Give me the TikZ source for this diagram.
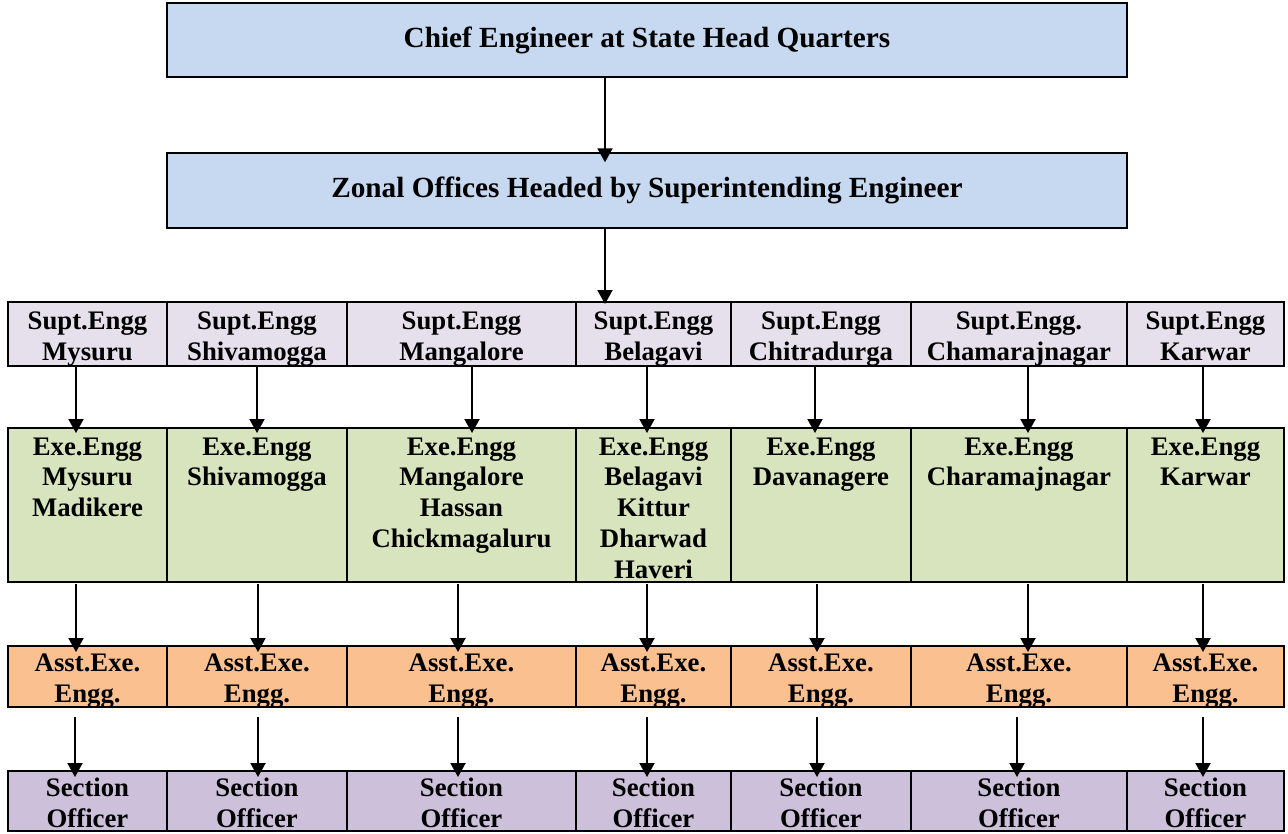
\documentclass[tikz,border=0pt]{standalone}
\usepackage{fontspec}
\setmainfont{Liberation Serif}
\usepackage{tikz}
\usetikzlibrary{arrows.meta, positioning}

\definecolor{headblue}{RGB}{198,217,240}
\definecolor{suptlilac}{RGB}{229,224,236}
\definecolor{exegreen}{RGB}{215,228,189}
\definecolor{asstorange}{RGB}{250,192,144}
\definecolor{secpurple}{RGB}{204,192,218}

\tikzstyle{headbox} = [rectangle, minimum width=384pt, minimum height=29.8pt, text centered, draw=black, line width=0.8pt, fill=headblue, outer sep=0pt, font=\fontsize{11.7}{14}\selectfont\bfseries]
\tikzset{
  rowbox/.style={rectangle, draw=black, line width=0.8pt, outer sep=0pt, inner sep=0pt, text width=#1, align=center, font=\fontsize{10.7}{12.3}\selectfont\bfseries},
  supt/.style={rowbox=#1, fill=suptlilac, text height=10.9pt, text depth=14.7pt},
  exe/.style={rowbox=#1, fill=exegreen, text height=10.8pt, text depth=50.8pt},
  asst/.style={rowbox=#1, fill=asstorange, text height=10.1pt, text depth=14.3pt},
  sect/.style={rowbox=#1, fill=secpurple, text height=10.2pt, text depth=13.8pt}
}
\tikzstyle{arrow} = [line width=0.8pt, -{Triangle[width=6pt, length=5.6pt]}]

\begin{document}
\begin{tikzpicture}[node distance=25.6pt]
\useasboundingbox (0,0) rectangle (515.2pt,-333.2pt);

% Head offices
\node (chief) [headbox] at (258.8pt,-16pt) {Chief Engineer at State Head Quarters};
\node (zonal) [headbox, below=30.4pt of chief] {Zonal Offices Headed by Superintending Engineer};

% Superintending engineers
\node (s1) [supt=63.6pt, anchor=north west] at (3.2pt,-120.8pt) {Supt.Engg\\Mysuru};
\node (s2) [supt=72pt, right=0pt of s1] {Supt.Engg\\Shivamogga};
\node (s3) [supt=91.6pt, right=0pt of s2] {Supt.Engg\\Mangalore};
\node (s4) [supt=62pt, right=0pt of s3] {Supt.Engg\\Belagavi};
\node (s5) [supt=72pt, right=0pt of s4] {Supt.Engg\\Chitradurga};
\node (s6) [supt=86.4pt, right=0pt of s5] {Supt.Engg.\\Chamarajnagar};
\node (s7) [supt=62.8pt, right=0pt of s6] {Supt.Engg\\Karwar};

% Executive engineers
\node (e1) [exe=63.6pt, below=24.8pt of s1] {Exe.Engg\\Mysuru\\Madikere};
\node (e2) [exe=72pt, below=24.8pt of s2] {Exe.Engg\\Shivamogga};
\node (e3) [exe=91.6pt, below=24.8pt of s3] {Exe.Engg\\Mangalore\\Hassan\\Chickmagaluru};
\node (e4) [exe=62pt, below=24.8pt of s4] {Exe.Engg\\Belagavi\\Kittur\\Dharwad\\Haveri};
\node (e5) [exe=72pt, below=24.8pt of s5] {Exe.Engg\\Davanagere};
\node (e6) [exe=86.4pt, below=24.8pt of s6] {Exe.Engg\\Charamajnagar};
\node (e7) [exe=62.8pt, below=24.8pt of s7] {Exe.Engg\\Karwar};

% Assistant executive engineers
\node (a1) [asst=63.6pt, below=of e1] {Asst.Exe.\\Engg.};
\node (a2) [asst=72pt, below=of e2] {Asst.Exe.\\Engg.};
\node (a3) [asst=91.6pt, below=of e3] {Asst.Exe.\\Engg.};
\node (a4) [asst=62pt, below=of e4] {Asst.Exe.\\Engg.};
\node (a5) [asst=72pt, below=of e5] {Asst.Exe.\\Engg.};
\node (a6) [asst=86.4pt, below=of e6] {Asst.Exe.\\Engg.};
\node (a7) [asst=62.8pt, below=of e7] {Asst.Exe.\\Engg.};

% Section officers
\node (o1) [sect=63.6pt, below=of a1] {Section\\Officer};
\node (o2) [sect=72pt, below=of a2] {Section\\Officer};
\node (o3) [sect=91.6pt, below=of a3] {Section\\Officer};
\node (o4) [sect=62pt, below=of a4] {Section\\Officer};
\node (o5) [sect=72pt, below=of a5] {Section\\Officer};
\node (o6) [sect=86.4pt, below=of a6] {Section\\Officer};
\node (o7) [sect=62.8pt, below=of a7] {Section\\Officer};

% Arrows
\draw [arrow] ([xshift=-16.8pt]chief.south) -- ([xshift=-16.8pt, yshift=-3.6pt]zonal.north);
\draw [arrow] ([xshift=-16.8pt]zonal.south) -- ([xshift=-16.8pt, yshift=-0.8pt]zonal.south |- s4.north);

\draw [arrow] ([xshift=-4.6pt]s1.south) -- ([xshift=-4.6pt, yshift=-2pt]e1.north);
\draw [arrow] ([xshift=0pt]s2.south) -- ([xshift=0pt, yshift=-2pt]e2.north);
\draw [arrow] ([xshift=4.2pt]s3.south) -- ([xshift=4.2pt, yshift=-2pt]e3.north);
\draw [arrow] ([xshift=-2.6pt]s4.south) -- ([xshift=-2.6pt, yshift=-2pt]e4.north);
\draw [arrow] ([xshift=-2.4pt]s5.south) -- ([xshift=-2.4pt, yshift=-2pt]e5.north);
\draw [arrow] ([xshift=3.6pt]s6.south) -- ([xshift=3.6pt, yshift=-2pt]e6.north);
\draw [arrow] ([xshift=-1pt]s7.south) -- ([xshift=-1pt, yshift=-2pt]e7.north);

\draw [arrow] ([xshift=-4.6pt, yshift=-0.8pt]e1.south) -- ([xshift=-4.6pt, yshift=-2.4pt]a1.north);
\draw [arrow] ([xshift=0.4pt, yshift=-0.8pt]e2.south) -- ([xshift=0.4pt, yshift=-2.4pt]a2.north);
\draw [arrow] ([xshift=-1.4pt, yshift=-0.8pt]e3.south) -- ([xshift=-1.4pt, yshift=-2.4pt]a3.north);
\draw [arrow] ([xshift=-2.6pt, yshift=-0.8pt]e4.south) -- ([xshift=-2.6pt, yshift=-2.4pt]a4.north);
\draw [arrow] ([xshift=-1.6pt, yshift=-0.8pt]e5.south) -- ([xshift=-1.6pt, yshift=-2.4pt]a5.north);
\draw [arrow] ([xshift=3.6pt, yshift=-0.8pt]e6.south) -- ([xshift=3.6pt, yshift=-2.4pt]a6.north);
\draw [arrow] ([xshift=-1pt, yshift=-0.8pt]e7.south) -- ([xshift=-1pt, yshift=-2.4pt]a7.north);

\draw [arrow] ([xshift=-5pt, yshift=-4pt]a1.south) -- ([xshift=-5pt, yshift=-2.4pt]o1.north);
\draw [arrow] ([xshift=0.4pt, yshift=-4pt]a2.south) -- ([xshift=0.4pt, yshift=-2.4pt]o2.north);
\draw [arrow] ([xshift=-1.4pt, yshift=-4pt]a3.south) -- ([xshift=-1.4pt, yshift=-2.4pt]o3.north);
\draw [arrow] ([xshift=-2.6pt, yshift=-4pt]a4.south) -- ([xshift=-2.6pt, yshift=-2.4pt]o4.north);
\draw [arrow] ([xshift=-1.6pt, yshift=-4pt]a5.south) -- ([xshift=-1.6pt, yshift=-2.4pt]o5.north);
\draw [arrow] ([xshift=-0.8pt, yshift=-4pt]a6.south) -- ([xshift=-0.8pt, yshift=-2.4pt]o6.north);
\draw [arrow] ([xshift=-1pt, yshift=-4pt]a7.south) -- ([xshift=-1pt, yshift=-2.4pt]o7.north);

\end{tikzpicture}
\end{document}
